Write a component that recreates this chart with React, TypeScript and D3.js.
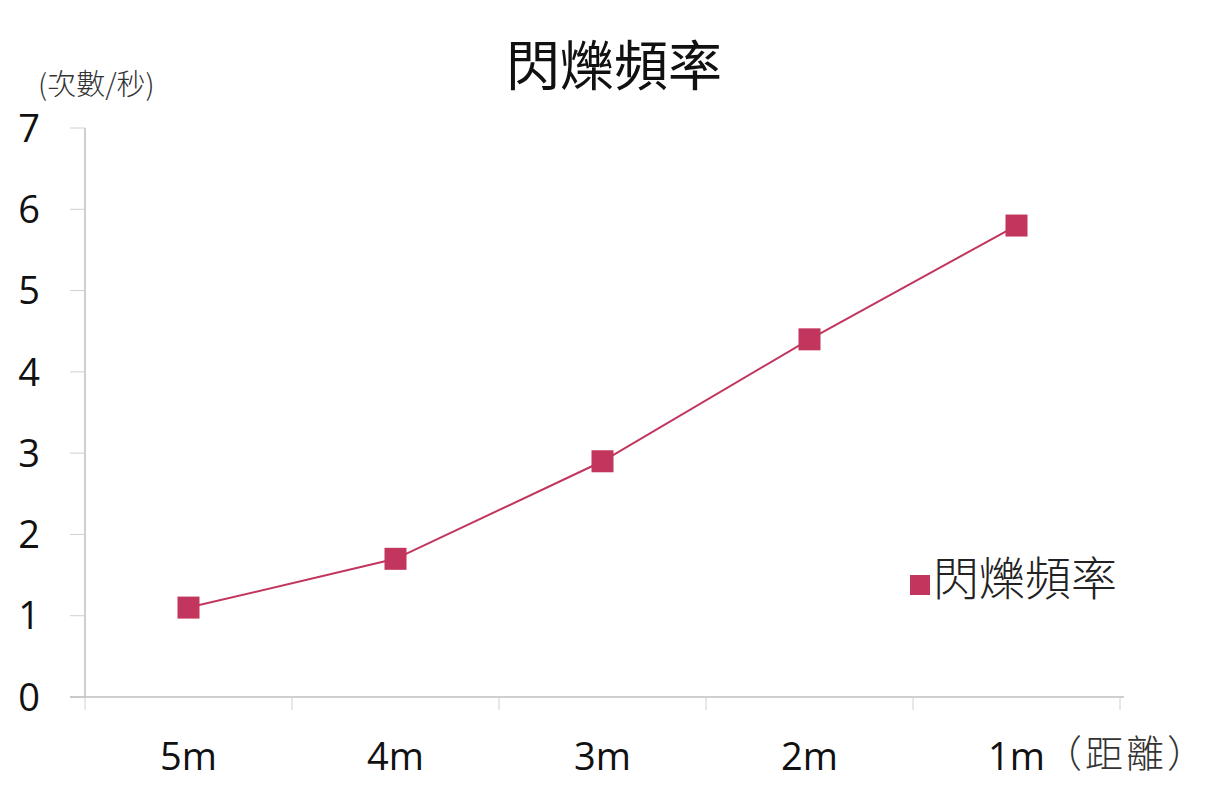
import React from "react";
import * as d3 from "d3";

const categories = ["5m", "4m", "3m", "2m", "1m"];
const values = [1.1, 1.7, 2.9, 4.4, 5.8];
const yTicks = [0, 1, 2, 3, 4, 5, 6, 7];
const title = "閃爍頻率";
const seriesName = "閃爍頻率";
const yUnit = "(次數/秒)";
const xUnit = "（距離）";

const W = 1211;
const H = 797;
const color = "#C2355D";
const cjk = "'Noto Sans CJK TC', 'Noto Sans CJK SC', sans-serif";
const latin = "'Open Sans', 'Noto Sans', sans-serif";

export default function App() {
  const x = d3.scaleBand<string>().domain(categories).range([85, 1120]);
  const y = d3.scaleLinear().domain([0, 7]).range([697, 128]);
  const line = d3
    .line<number>()
    .x((_, i) => (x(categories[i]) as number) + x.bandwidth() / 2)
    .y((d) => y(d));
  const bounds = categories.map((c) => x(c) as number).concat([x.range()[1]]);
  const ms = 22;
  return (
    <svg
      width={W}
      height={H}
      style={{ position: "absolute", left: 0, top: 0, background: "#fff" }}
    >
      <rect width={W} height={H} fill="#fff" />
      <text
        x={614}
        y={86}
        textAnchor="middle"
        fontFamily={cjk}
        fontSize={54}
        fontWeight={400}
        fill="#111"
      >
        {title}
      </text>
      <text x={38} y={95} fontFamily={cjk} fontSize={29} fontWeight={300} fill="#333">
        {yUnit}
      </text>
      {/* y axis */}
      <line x1={85} x2={85} y1={128} y2={697} stroke="#bfbfbf" strokeWidth={1.5} />
      {yTicks.map((t) => (
        <g key={t}>
          <line x1={70} x2={85} y1={y(t)} y2={y(t)} stroke="#d0d0d0" strokeWidth={1} />
          <text
            x={40}
            y={y(t)}
            dy="0.36em"
            textAnchor="end"
            fontFamily={latin}
            fontSize={38}
            fill="#111"
          >
            {t}
          </text>
        </g>
      ))}
      {/* x axis */}
      <line x1={70} x2={1124} y1={697} y2={697} stroke="#bfbfbf" strokeWidth={1.5} />
      {bounds.map((b, i) => (
        <line key={i} x1={b} x2={b} y1={697} y2={710} stroke="#d0d0d0" strokeWidth={1} />
      ))}
      {categories.map((c) => (
        <text
          key={c}
          x={(x(c) as number) + x.bandwidth() / 2}
          y={770}
          textAnchor="middle"
          fontFamily={latin}
          fontSize={38}
          fill="#111"
        >
          {c}
        </text>
      ))}
      <text
        x={1044}
        y={767}
        fontFamily={cjk}
        fontSize={38}
        fontWeight={300}
        letterSpacing={3}
        fill="#333"
      >
        {xUnit}
      </text>
      {/* series */}
      <path d={line(values) || ""} fill="none" stroke={color} strokeWidth={2} />
      {values.map((v, i) => (
        <rect
          key={i}
          x={(x(categories[i]) as number) + x.bandwidth() / 2 - ms / 2}
          y={y(v) - ms / 2}
          width={ms}
          height={ms}
          fill={color}
        />
      ))}
      {/* legend */}
      <rect x={910} y={575} width={20} height={20} fill={color} />
      <text x={933} y={595} fontFamily={cjk} fontSize={46} fontWeight={300} fill="#222">
        {seriesName}
      </text>
    </svg>
  );
}
